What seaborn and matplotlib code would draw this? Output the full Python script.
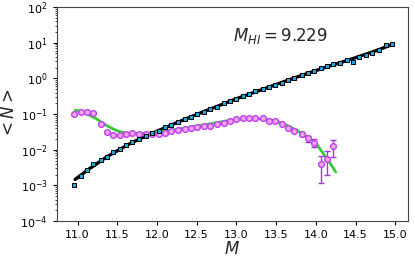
import numpy as np
import pandas as pd
import matplotlib
matplotlib.use("Agg")
import matplotlib.pyplot as plt
import seaborn as sns

# ── DATA (log10 values) ─────────────────────────────────────────────
mass_bins = [10.96, 11.04, 11.12, 11.20, 11.29, 11.37, 11.45, 11.53, 11.61, 11.69,
             11.78, 11.86, 11.94, 12.02, 12.10, 12.18, 12.27, 12.35, 12.43, 12.51,
             12.59, 12.67, 12.76, 12.84, 12.92, 13.00, 13.08, 13.16, 13.24, 13.33,
             13.41, 13.49, 13.57, 13.65, 13.73, 13.82, 13.90, 13.98, 14.06, 14.14,
             14.22, 14.31, 14.39, 14.47, 14.55, 14.63, 14.71, 14.80, 14.88, 14.96]

log_n_cen = [-3.00, -2.74, -2.57, -2.41, -2.29, -2.20, -2.07, -1.99, -1.88, -1.79,
             -1.70, -1.61, -1.52, -1.47, -1.37, -1.30, -1.22, -1.14, -1.08, -0.99,
             -0.93, -0.86, -0.79, -0.69, -0.63, -0.57, -0.50, -0.44, -0.36, -0.30,
             -0.25, -0.19, -0.13, -0.05, 0.02, 0.09, 0.15, 0.21, 0.28, 0.34,
             0.41, 0.44, 0.52, 0.47, 0.60, 0.66, 0.72, 0.79, 0.94, 0.97]

log_n_sat = [-1.01, -0.95, -0.95, -0.97, -1.27, -1.51, -1.59, -1.59, -1.56, -1.54,
             -1.55, -1.55, -1.55, -1.57, -1.53, -1.48, -1.45, -1.41, -1.38, -1.35,
             -1.34, -1.33, -1.28, -1.25, -1.20, -1.15, -1.12, -1.12, -1.12, -1.12,
             -1.19, -1.19, -1.27, -1.38, -1.46, -1.57, -1.68, -1.80, -2.40, -2.25,
             -1.90]
err_sat = [0.004, 0.004, 0.004, 0.004, 0.003, 0.002, 0.001, 0.001, 0.001, 0.001,
           0.001, 0.001, 0.001, 0.001, 0.001, 0.001, 0.001, 0.001, 0.001, 0.001,
           0.001, 0.001, 0.001, 0.002, 0.002, 0.002, 0.002, 0.002, 0.002, 0.002,
           0.002, 0.002, 0.002, 0.002, 0.0025, 0.003, 0.004, 0.0042, 0.0028, 0.0037,
           0.0063]

fit_cen_m = [10.97, 11.05, 11.15, 11.25, 11.375, 11.5, 11.625, 11.75, 11.875, 12.0,
             12.25, 12.5, 12.75, 13.0, 13.25, 13.5, 13.75, 14.0, 14.25, 14.5, 14.75, 14.96]
fit_cen_log = [-2.83, -2.70, -2.53, -2.38, -2.19, -2.03, -1.87, -1.73, -1.60, -1.48,
               -1.24, -1.01, -0.79, -0.57, -0.37, -0.17, 0.03, 0.22, 0.40, 0.58, 0.77, 0.95]

fit_sat_m = [10.97, 11.06, 11.14, 11.23, 11.31, 11.39, 11.48, 11.56, 11.64, 11.75,
             11.9, 12.0, 12.15, 12.3, 12.5, 12.7, 12.9, 13.05, 13.2, 13.35,
             13.5, 13.6, 13.67, 13.79, 13.91, 14.0, 14.08, 14.17, 14.25]
fit_sat_log = [-0.89, -0.93, -1.02, -1.12, -1.24, -1.35, -1.45, -1.51, -1.54, -1.55,
               -1.53, -1.50, -1.46, -1.41, -1.34, -1.26, -1.18, -1.14, -1.12, -1.14,
               -1.20, -1.28, -1.35, -1.49, -1.66, -1.81, -2.06, -2.34, -2.62]

m_hi = 9.229

cen = pd.DataFrame({'M': mass_bins, 'N': 10 ** np.array(log_n_cen)})
sat = pd.DataFrame({'M': mass_bins[:len(log_n_sat)], 'N': 10 ** np.array(log_n_sat),
                    'err': err_sat})
fit_cen = pd.DataFrame({'M': fit_cen_m, 'N': 10 ** np.array(fit_cen_log)})
fit_sat = pd.DataFrame({'M': fit_sat_m, 'N': 10 ** np.array(fit_sat_log)})

# ── PLOT ────────────────────────────────────────────────────────────
sns.set_style("ticks")
plt.rcParams['font.family'] = ['DejaVu Sans']
plt.rcParams['mathtext.fontset'] = 'dejavusans'

fig = plt.figure(figsize=(4.15, 2.62), dpi=100)
ax = fig.add_axes([0.137, 0.156, 0.846, 0.817])

sns.lineplot(data=fit_cen, x='M', y='N', ax=ax, color='black', lw=2.4, sort=False)
sns.lineplot(data=fit_sat, x='M', y='N', ax=ax, color='#33cc33', lw=2.0, sort=False)

ax.errorbar(sat['M'], sat['N'], yerr=sat['err'], fmt='none', ecolor='#a535e0',
            elinewidth=1.0, capsize=2.2, capthick=1.0, zorder=3)
sns.scatterplot(data=sat, x='M', y='N', ax=ax, marker='o', s=17,
                facecolor='#f4a6ee', edgecolor='#c040f0', linewidth=1.0, zorder=4)
sns.scatterplot(data=cen, x='M', y='N', ax=ax, marker='s', s=10,
                facecolor='#1fa6de', edgecolor='black', linewidth=0.7, zorder=5)

ax.set_yscale('log')
ax.set_ylim(1e-4, 1e2)
ax.set_xlim(10.74, 15.16)
ax.set_xticks([11.0, 11.5, 12.0, 12.5, 13.0, 13.5, 14.0, 14.5, 15.0])
ax.tick_params(labelsize=8, colors='black', length=3)
ax.tick_params(which='minor', length=1.8)
for sp in ax.spines.values():
    sp.set_color('#444444')

ax.set_xlabel(r'$M$', fontsize=12, labelpad=0)
ax.set_ylabel(r'$<N>$', fontsize=12, labelpad=2)
ax.text(0.638, 0.865, r'$M_{HI} = %.3f$' % m_hi, transform=ax.transAxes,
        ha='center', va='center', fontsize=12)

fig.savefig("out.png", dpi=100)
